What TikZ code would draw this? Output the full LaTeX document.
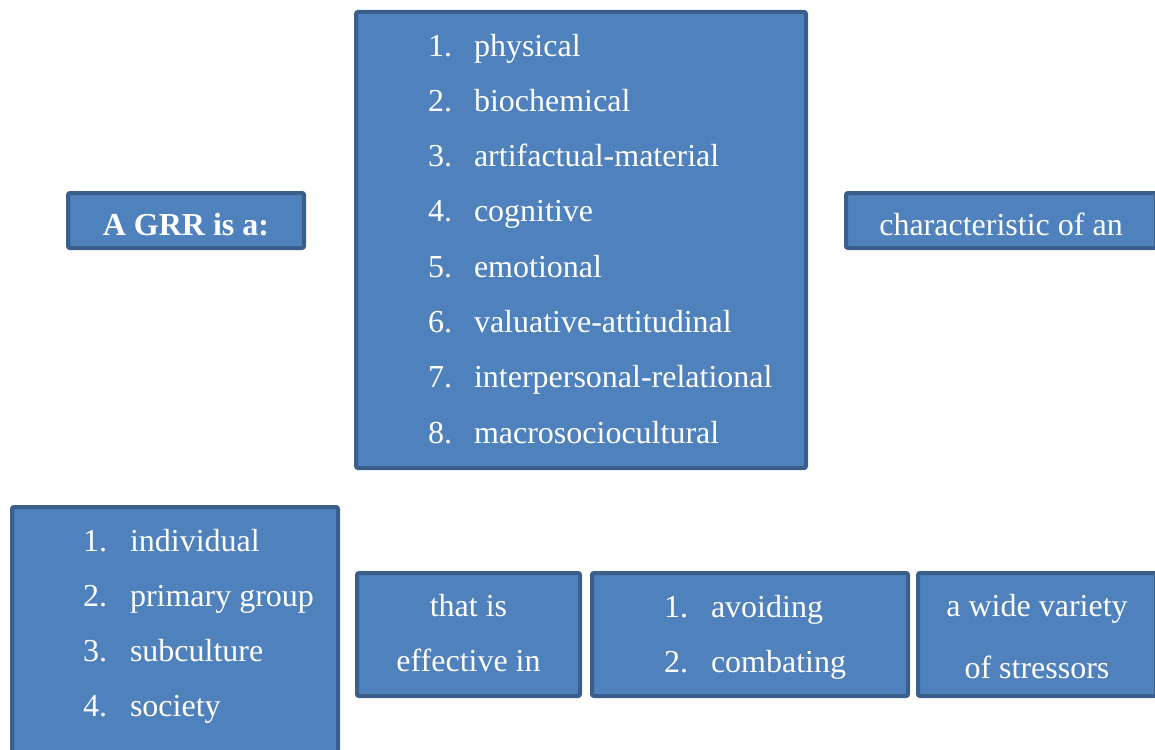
\documentclass[tikz,border=0pt]{standalone}
\usepackage{fontspec}
\setmainfont{Liberation Serif}
\usepackage{xcolor}
\usepackage{tikz}
\usetikzlibrary{calc}

\definecolor{boxfill}{HTML}{4F81BD}
\definecolor{boxline}{HTML}{3A5F8B}

\begin{document}
\begin{tikzpicture}[x=0.75pt,y=-0.75pt,line width=3pt,
	box/.style={draw=boxline,fill=boxfill,rounded corners=1.5pt,inner sep=0pt},
	txt/.style={text=white,inner sep=0pt,font=\fontsize{24}{28}\selectfont}]
			\useasboundingbox (0,0) rectangle (1155,749);
			\clip (0,0) rectangle (1155,749);
			% % % % % % % % % % % % % % %
			\pgfmathsetmacro{\pitch}{55.3} %列表行距
			%画方框
			\node[box,minimum width=236*0.75pt,minimum height=55*0.75pt] (grr) at (186,220.5) {};
			\node[box,minimum width=450*0.75pt,minimum height=456*0.75pt] (types) at (581,240) {};
			\node[box,minimum width=310*0.75pt,minimum height=55*0.75pt] (charof) at (1001,220.5) {};
			\node[box,minimum width=326*0.75pt,minimum height=293*0.75pt] (units) at (175,653.5) {};
			\node[box,minimum width=223*0.75pt,minimum height=123*0.75pt] (effin) at (468.5,634.5) {};
			\node[box,minimum width=316*0.75pt,minimum height=123*0.75pt] (modes) at (750,634.5) {};
			\node[box,minimum width=238*0.75pt,minimum height=123*0.75pt] (stressors) at (1037,634.5) {};
			%单行文字
			\node[txt,anchor=base,font=\fontsize{24}{28}\selectfont\bfseries] (grr-t) at (186,235) {A GRR is a:};
			\node[txt,anchor=base] (charof-t) at (1001,235) {characteristic of an};
			\node[txt,anchor=base] (effin-a) at (468.5,616) {that is};
			\node[txt,anchor=base] (effin-b) at (468.5,671) {effective in};
			\node[txt,anchor=base] (stressors-a) at (1037,616) {a wide variety};
			\node[txt,anchor=base] (stressors-b) at (1037,678) {of stressors};
			%编号列表
			\foreach \t [count=\i] in {physical,biochemical,artifactual-material,cognitive,emotional,valuative-attitudinal,interpersonal-relational,macrosociocultural} {
			\node[txt,anchor=base west] (types-n\i) at (426,{56+\pitch*(\i-1)}) {\i.};
			\node[txt,anchor=base west] (types-t\i) at (472,{56+\pitch*(\i-1)}) {\t};
			}
			\foreach \t [count=\i] in {individual,primary group,subculture,society} {
			\node[txt,anchor=base west] (units-n\i) at (81,{551+55*(\i-1)}) {\i.};
			\node[txt,anchor=base west] (units-t\i) at (128,{551+55*(\i-1)}) {\t};
			}
			\foreach \t [count=\i] in {avoiding,combating} {
			\node[txt,anchor=base west] (modes-n\i) at (662,{617+55*(\i-1)}) {\i.};
			\node[txt,anchor=base west] (modes-t\i) at (709,{617+55*(\i-1)}) {\t};
			}
		\end{tikzpicture}
\end{document}
